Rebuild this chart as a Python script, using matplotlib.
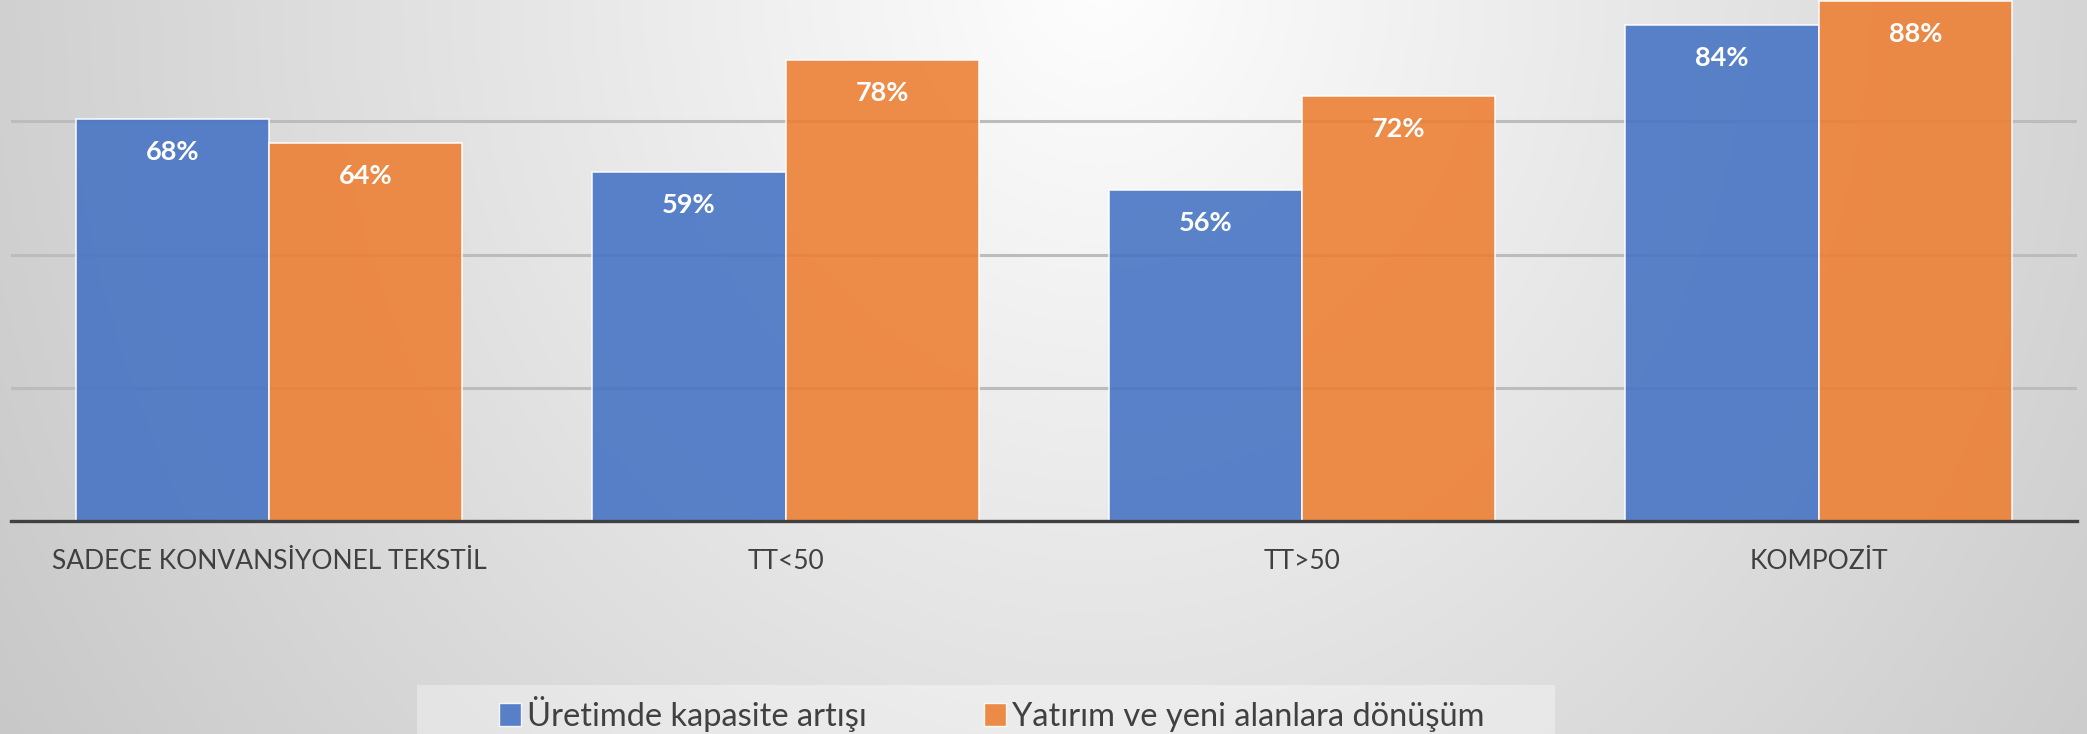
import numpy as np
import matplotlib
matplotlib.use("Agg")
import matplotlib.pyplot as plt
from matplotlib.ticker import MultipleLocator
from matplotlib.patches import Rectangle, Patch

categories = ["SADECE KONVANSİYONEL TEKSTİL", "TT<50", "TT>50", "KOMPOZİT"]
series_names = ["Üretimde kapasite artışı", "Yatırım ve yeni alanlara dönüşüm"]
capacity = [0.68, 0.59, 0.56, 0.84]
investment = [0.64, 0.78, 0.72, 0.88]
colors = ["#4472C4", "#ED7D31"]

plt.rcParams['font.family'] = ['Lato', 'DejaVu Sans']

W, H = 2087, 734
fig = plt.figure(figsize=(W / 100, H / 100), dpi=100)

# background radial gradient
bg = fig.add_axes([0, 0, 1, 1], zorder=-10)
yy, xx = np.mgrid[0:H, 0:W]
cx, cy = 1100, -20
d = np.sqrt(((xx - cx) * 0.0415) ** 2 + ((yy - cy) * 0.038) ** 2)
v = np.clip(254 - d, 180, 255) / 255.0
bg.imshow(np.dstack([v, v, v]), aspect='auto', extent=[0, 1, 0, 1], origin='upper')
bg.set_axis_off()

# legend background panel
fig.patches.append(Rectangle((417 / W, 0), (1555 - 417) / W, (734 - 685) / H,
                             transform=fig.transFigure, facecolor='white',
                             alpha=0.35, edgecolor='none', zorder=-5))

ax = fig.add_axes([10.6 / W, (H - 521) / H, (2077 - 10.6) / W, 521 / H])
ax.patch.set_alpha(0)
x = np.arange(len(categories))
w = 0.374
b1 = ax.bar(x - w / 2, capacity, w, color=colors[0], alpha=0.88,
            edgecolor=(1, 1, 1, 0.6), linewidth=1.2, zorder=3)
b2 = ax.bar(x + w / 2, investment, w, color=colors[1], alpha=0.88,
            edgecolor=(1, 1, 1, 0.6), linewidth=1.2, zorder=3)

for bars, vals in ((b1, capacity), (b2, investment)):
    for r, val in zip(bars, vals):
        ax.annotate(f"{val * 100:.0f}%", (r.get_x() + r.get_width() / 2, val),
                    xytext=(0, -33), textcoords='offset pixels',
                    ha='center', va='center', color='white',
                    fontsize=19.5, fontweight='bold', zorder=5)

ax.set_xlim(-0.5, 3.5)
ax.set_ylim(0, 0.882)
ax.yaxis.set_major_locator(MultipleLocator(0.2255))
ax.grid(axis='y', color='#bcbcbc', linewidth=2.2, zorder=1)
ax.set_axisbelow(True)
for s in ['top', 'right', 'left']:
    ax.spines[s].set_visible(False)
ax.spines['bottom'].set_color('#404040')
ax.spines['bottom'].set_linewidth(2.4)
ax.spines['bottom'].set_zorder(6)
ax.set_yticklabels([])
ax.tick_params(axis='y', length=0)
ax.set_xticks(x)
ax.set_xticklabels(categories, fontsize=19, color='#404040')
ax.tick_params(axis='x', length=0, pad=20)

handles = [Patch(facecolor=c, alpha=0.88, edgecolor=(1, 1, 1, 0.6)) for c in colors]
fig.legend(handles, series_names, loc='center', bbox_to_anchor=(992 / W, 1 - 714 / H),
           ncol=2, frameon=False, fontsize=23.5, labelcolor='#404040',
           handlelength=0.65, handleheight=0.7, handletextpad=0.2, columnspacing=3.6)

fig.savefig("out.png", dpi=100)
